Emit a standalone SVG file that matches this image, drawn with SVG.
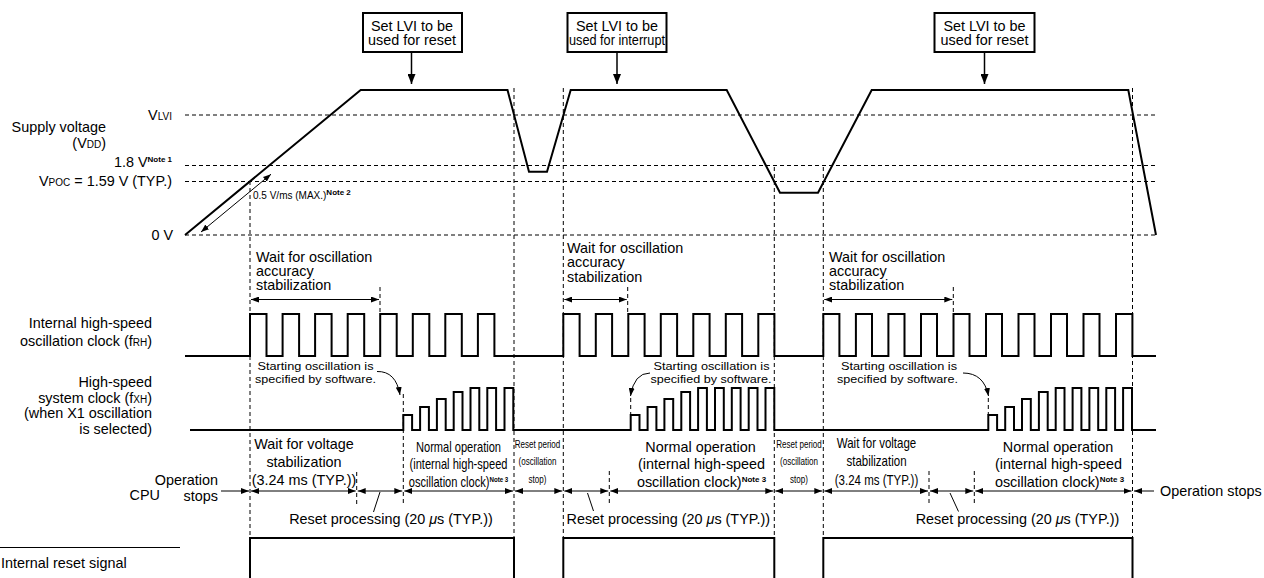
<svg xmlns="http://www.w3.org/2000/svg" width="1264" height="578" viewBox="0 0 1264 578">
<style>
text{font-family:"Liberation Sans",Arial,Helvetica,sans-serif;fill:#000}
.t{font-size:14.4px}
.s{font-size:11.6px}
.xs{font-size:10px}
.sub{font-size:10px}
.note{font-size:8px;font-weight:bold}
.dash{stroke:#000;stroke-width:1;stroke-dasharray:4 3;fill:none}
.wave{stroke:#000;stroke-width:2;fill:none;stroke-linejoin:miter}
.thin{stroke:#000;stroke-width:1;fill:none}
.arr{stroke:#000;stroke-width:1;fill:none;marker-start:url(#ah);marker-end:url(#ah)}
.arr1{stroke:#000;stroke-width:1;fill:none;marker-end:url(#ah)}
.box{fill:#fff;stroke:#000;stroke-width:2}
</style>
<defs>
<marker id="ah" viewBox="0 0 8 6" refX="8" refY="3" markerWidth="8" markerHeight="6" markerUnits="userSpaceOnUse" orient="auto-start-reverse"><path d="M0,0 L8,3 L0,6 z"/></marker>
<marker id="ahb" viewBox="0 0 10 8" refX="10" refY="4" markerWidth="10" markerHeight="8" markerUnits="userSpaceOnUse" orient="auto"><path d="M0,0 L10,4 L0,8 z"/></marker>
</defs>
<rect width="1264" height="578" fill="#fff"/>

<g id="left-labels">
<text class="t" x="172" y="120" text-anchor="end">V<tspan class="sub">LVI</tspan></text>
<text class="t" x="106" y="132" text-anchor="end">Supply voltage</text>
<text class="t" x="106" y="148" text-anchor="end">(V<tspan class="sub">DD</tspan>)</text>
<text class="t" x="172" y="167" text-anchor="end">1.8 V<tspan class="note" dy="-5">Note 1</tspan></text>
<text class="t" x="172" y="186" text-anchor="end">V<tspan class="sub">POC</tspan> = 1.59 V (TYP.)</text>
<text class="t" x="173" y="240" text-anchor="end">0 V</text>
<text class="t" x="152" y="328" text-anchor="end">Internal high-speed</text>
<text class="t" x="152" y="346" text-anchor="end">oscillation clock (f<tspan class="sub">RH</tspan>)</text>
<text class="t" x="152" y="387" text-anchor="end">High-speed</text>
<text class="t" x="152" y="403" text-anchor="end">system clock (f<tspan class="sub">XH</tspan>)</text>
<text class="t" x="152" y="418" text-anchor="end">(when X1 oscillation</text>
<text class="t" x="152" y="434" text-anchor="end">is selected)</text>
<text class="t" x="160" y="500" text-anchor="end">CPU</text>
<text class="t" x="218" y="485" text-anchor="end">Operation</text>
<text class="t" x="218" y="501" text-anchor="end">stops</text>
<text class="t" x="1160" y="496">Operation stops</text>
<text class="t" x="1" y="568">Internal reset signal</text>
<line class="thin" x1="0" y1="547.5" x2="180" y2="547.5"/>
</g>

<g id="box-1">
<rect class="box" x="363" y="13" width="99" height="39"/>
<text class="t" x="412" y="31" text-anchor="middle">Set LVI to be</text>
<text class="t" x="412" y="45" text-anchor="middle">used for reset</text>
</g>
<g id="box-2">
<rect class="box" x="567.5" y="13" width="99" height="39"/>
<text class="t" x="617" y="31" text-anchor="middle">Set LVI to be</text>
<text class="t" x="617" y="45" text-anchor="middle" textLength="96" lengthAdjust="spacingAndGlyphs">used for interrupt</text>
</g>
<g id="box-3">
<rect class="box" x="934.5" y="13" width="100" height="39"/>
<text class="t" x="984.5" y="31" text-anchor="middle">Set LVI to be</text>
<text class="t" x="984.5" y="45" text-anchor="middle">used for reset</text>
</g>

<g id="grid">
<line class="dash" x1="185" y1="115" x2="1156" y2="115"/>
<line class="dash" x1="185" y1="165.5" x2="1156" y2="165.5"/>
<line class="dash" x1="185" y1="181.5" x2="1156" y2="181.5"/>
<line class="dash" x1="185" y1="235" x2="1156" y2="235"/>
<line class="dash" x1="250" y1="181" x2="250" y2="538"/>
<line class="dash" x1="514" y1="88" x2="514" y2="538"/>
<line class="dash" x1="563.3" y1="88" x2="563.3" y2="538"/>
<line class="dash" x1="774.3" y1="167" x2="774.3" y2="538"/>
<line class="dash" x1="823.3" y1="167" x2="823.3" y2="538"/>
<line class="dash" x1="1132.5" y1="88" x2="1132.5" y2="538"/>
<line class="dash" x1="380" y1="287" x2="380" y2="314"/>
<line class="dash" x1="627.7" y1="287" x2="627.7" y2="314"/>
<line class="dash" x1="953.3" y1="287" x2="953.3" y2="314"/>
<line class="dash" x1="403.3" y1="394" x2="403.3" y2="505"/>
<line class="dash" x1="356.7" y1="472" x2="356.7" y2="505"/>
<line class="dash" x1="630.7" y1="398" x2="630.7" y2="415"/>
<line class="dash" x1="609.3" y1="471" x2="609.3" y2="504"/>
<line class="dash" x1="988.3" y1="398" x2="988.3" y2="415"/>
<line class="dash" x1="929" y1="471" x2="929" y2="504"/>
<line class="dash" x1="974.3" y1="471" x2="974.3" y2="504"/>
</g>

<g id="supply-voltage">
<polyline class="wave" points="185,235 360.7,90 507.5,90 529,171.7 547,171.7 570.7,90 726.7,90 780,192.7 818,192.7 871.7,90 1128.3,90 1156,235"/>
<text class="xs" x="253" y="199">0.5 V/ms (MAX.)<tspan class="note" font-size="7" dy="-4">Note 2</tspan></text>
</g>

<g id="fRH-clock">
<path class="wave" d="M185,356 H250 V314 H266.5 V356 H282.6 V314 H299.1 V356 H315.1 V314 H331.6 V356 H347.7 V314 H364.2 V356 H380.2 V314 H396.7 V356 H412.8 V314 H429.3 V356 H445.3 V314 H461.8 V356 H477.9 V314 H494.4 V356 H563.3 V314 H579.6 V356 H595.8 V314 H612.1 V356 H628.3 V314 H644.6 V356 H660.8 V314 H677.1 V356 H693.3 V314 H709.6 V356 H725.8 V314 H742.1 V356 H758.3 V314 H774.4 V356 H823.3 V314 H839.4 V356 H855.9 V314 H872 V356 H888.4 V314 H904.5 V356 H921 V314 H937 V356 H953.5 V314 H969.5 V356 H986 V314 H1002 V356 H1018.5 V314 H1034.5 V356 H1051 V314 H1067 V356 H1083.5 V314 H1099.5 V356 H1116 V314 H1132.4 V356 H1156"/>
<text class="t" x="256" y="262">Wait for oscillation</text>
<text class="t" x="256" y="276">accuracy</text>
<text class="t" x="256" y="290">stabilization</text>
<text class="t" x="567" y="253">Wait for oscillation</text>
<text class="t" x="567" y="267">accuracy</text>
<text class="t" x="567" y="282">stabilization</text>
<text class="t" x="829" y="262">Wait for oscillation</text>
<text class="t" x="829" y="276">accuracy</text>
<text class="t" x="829" y="290">stabilization</text>
</g>

<g id="fXH-clock">
<path class="wave" d="M190,430 H403.3 V415 H412.1 V430 H420.1 V407 H428.9 V430 H436.9 V399 H445.7 V430 H453.7 V392 H462.5 V430 H470.5 V388 H479.3 V430 H487.3 V388 H496.1 V430 H504.5 V388 H513.3 V430 H630.7 V415 H639.5 V430 H647.6 V407 H656.4 V430 H664.4 V399 H673.2 V430 H681.3 V392 H690.1 V430 H698.1 V388 H706.9 V430 H715 V388 H723.8 V430 H731.8 V388 H740.6 V430 H748.7 V388 H757.5 V430 H765.5 V388 H774.3 V430 H988.3 V415 H997.1 V430 H1005.2 V407 H1014 V430 H1022 V399 H1030.8 V430 H1038.9 V392 H1047.7 V430 H1055.7 V388 H1064.5 V430 H1072.6 V388 H1081.4 V430 H1089.4 V388 H1098.2 V430 H1106.3 V388 H1115.1 V430 H1123.1 V388 H1132 V430 H1156"/>
<text class="s" x="315.5" y="370" text-anchor="middle" textLength="116" lengthAdjust="spacingAndGlyphs">Starting oscillation is</text>
<text class="s" x="315.5" y="383" text-anchor="middle" textLength="121" lengthAdjust="spacingAndGlyphs">specified by software.</text>
<text class="s" x="711.5" y="369.5" text-anchor="middle" textLength="116" lengthAdjust="spacingAndGlyphs">Starting oscillation is</text>
<text class="s" x="711" y="382.5" text-anchor="middle" textLength="121" lengthAdjust="spacingAndGlyphs">specified by software.</text>
<text class="s" x="899" y="369.5" text-anchor="middle" textLength="116" lengthAdjust="spacingAndGlyphs">Starting oscillation is</text>
<text class="s" x="897.5" y="382.5" text-anchor="middle" textLength="121" lengthAdjust="spacingAndGlyphs">specified by software.</text>
</g>

<g id="cpu-labels">
<text class="t" x="304" y="449" text-anchor="middle">Wait for voltage</text>
<text class="t" x="304" y="466.5" text-anchor="middle">stabilization</text>
<text class="t" x="304" y="485" text-anchor="middle">(3.24 ms (TYP.))</text>
<g transform="translate(458.5,0) scale(0.77,1)">
<text class="t" x="0" y="451.7" text-anchor="middle">Normal operation</text>
<text class="t" x="0" y="469" text-anchor="middle">(internal high-speed</text>
<text class="t" x="0" y="486.7" text-anchor="middle">oscillation clock)<tspan class="note" dy="-5">Note 3</tspan></text>
</g>
<g transform="translate(537.5,0) scale(0.7,1)">
<text x="0" y="448.5" font-size="11.5" text-anchor="middle">Reset period</text>
<text x="0" y="465.5" font-size="11.5" text-anchor="middle">(oscillation</text>
<text x="0" y="483" font-size="11.5" text-anchor="middle">stop)</text>
</g>
<text class="t" x="700.5" y="451.7" text-anchor="middle">Normal operation</text>
<text class="t" x="701.5" y="469" text-anchor="middle">(internal high-speed</text>
<text class="t" x="701.5" y="486.7" text-anchor="middle">oscillation clock)<tspan class="note" dy="-5">Note 3</tspan></text>
<g transform="translate(799,0) scale(0.7,1)">
<text x="0" y="448.5" font-size="11.5" text-anchor="middle">Reset period</text>
<text x="0" y="465.5" font-size="11.5" text-anchor="middle">(oscillation</text>
<text x="0" y="483" font-size="11.5" text-anchor="middle">stop)</text>
</g>
<g transform="translate(876.5,0) scale(0.8,1)">
<text class="t" x="0" y="448" text-anchor="middle">Wait for voltage</text>
<text class="t" x="0" y="466" text-anchor="middle">stabilization</text>
<text class="t" x="0" y="485" text-anchor="middle">(3.24 ms (TYP.))</text>
</g>
<text class="t" x="1058" y="451.7" text-anchor="middle">Normal operation</text>
<text class="t" x="1058.5" y="469" text-anchor="middle">(internal high-speed</text>
<text class="t" x="1059.5" y="486.7" text-anchor="middle">oscillation clock)<tspan class="note" dy="-5">Note 3</tspan></text>
<text class="t" x="391" y="524" text-anchor="middle">Reset processing (20 <tspan font-style="italic">μ</tspan>s (TYP.))</text>
<text class="t" x="668.3" y="524" text-anchor="middle">Reset processing (20 <tspan font-style="italic">μ</tspan>s (TYP.))</text>
<text class="t" x="1017.5" y="524" text-anchor="middle">Reset processing (20 <tspan font-style="italic">μ</tspan>s (TYP.))</text>
</g>

<g id="internal-reset-signal">
<polyline class="wave" points="250,580 250,538 514,538 514,580"/>
<polyline class="wave" points="563.3,580 563.3,538 774.3,538 774.3,580"/>
<polyline class="wave" points="823.3,580 823.3,538 1132.5,538 1132.5,580"/>
</g>

<g id="connectors">
<line x1="411.5" y1="52" x2="411.5" y2="84" stroke="#000" stroke-width="1.5" marker-end="url(#ahb)"/>
<line x1="617" y1="52" x2="617" y2="84" stroke="#000" stroke-width="1.5" marker-end="url(#ahb)"/>
<line x1="984.5" y1="52" x2="984.5" y2="84" stroke="#000" stroke-width="1.5" marker-end="url(#ahb)"/>
<line class="arr" x1="271" y1="174.2" x2="201" y2="232"/>
<line class="arr" x1="251" y1="299.5" x2="379" y2="299.5"/>
<line class="arr" x1="564.3" y1="299.5" x2="626.7" y2="299.5"/>
<line class="arr" x1="824.3" y1="299.5" x2="952.3" y2="299.5"/>
<path class="arr1" d="M377,371.5 Q396,371 400,395"/>
<path class="arr1" d="M650,373 Q634,373 630.5,396"/>
<path class="arr1" d="M963,373 Q984,373 988.5,396"/>
<line class="arr1" x1="221" y1="491" x2="249" y2="491"/>
<line class="arr" x1="251" y1="491" x2="355.7" y2="491"/>
<line class="arr" x1="357.7" y1="491" x2="402.3" y2="491"/>
<line class="arr" x1="404.3" y1="491" x2="513" y2="491"/>
<line class="arr" x1="515" y1="491" x2="562.3" y2="491"/>
<line class="arr" x1="564.3" y1="491" x2="608.3" y2="491"/>
<line class="arr" x1="610.3" y1="491" x2="773.3" y2="491"/>
<line class="arr" x1="775.3" y1="491" x2="822.3" y2="491"/>
<line class="arr" x1="824.3" y1="491" x2="928" y2="491"/>
<line class="arr" x1="930" y1="491" x2="973.3" y2="491"/>
<line class="arr" x1="975.3" y1="491" x2="1131.5" y2="491"/>
<line class="arr1" x1="1154" y1="491" x2="1134" y2="491"/>
<line class="thin" x1="380" y1="492" x2="373.5" y2="512"/>
<line class="thin" x1="587.5" y1="493" x2="593.5" y2="511"/>
<line class="thin" x1="950" y1="493" x2="958.5" y2="511.5"/>
</g>
</svg>
